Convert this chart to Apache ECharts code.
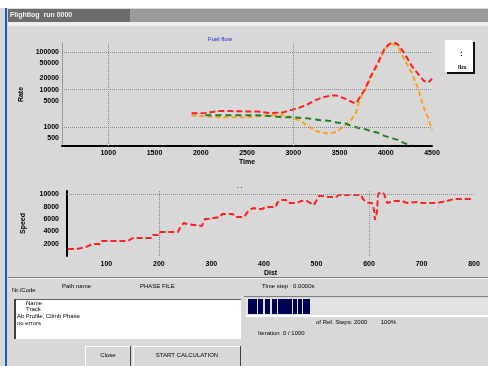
<!DOCTYPE html>
<html><head><meta charset="utf-8">
<script src="https://cdn.jsdelivr.net/npm/echarts@6/dist/echarts.min.js"></script>
<style>html,body{margin:0;padding:0;background:#fff}#c{width:488px;height:366px}</style>
</head><body><div id="c"></div>
<script>
// ---- top chart data ----
const topX = [1900,2050,2190,2330,2470,2610,2750,2890,3000,3070,3150,3230,3310,3400,3470,3560,3640,3680,3720,3780,3830,3910,3990,4040,4090,4130,4200,4280,4350,4410,4460,4500];
const redY = [2340,2380,2690,2690,2640,2640,2380,2480,2980,3360,4030,5140,6160,6950,6950,5790,4630,4370,6270,10600,21100,48300,129800,165000,180000,162000,95900,42800,26400,17300,15600,19500];
const orangeY = [2070,1950,1830,1830,1830,1950,2070,2070,1830,1470,1130,834,708,682,752,1130,1730,2480,5790,10000,19500,45500,119900,152800,162000,143800,65500,28500,10600,3360,1730,834];
const greenY = [null,2070,2070,2070,2070,2070,2000,1830,1830,1780,1730,1620,1520,1470,1340,1270,1060,1000,940,890,800,720,580,545,490,460,375,335,null,null,null,null];
const topXTicks = [1000,1500,2000,2500,3000,3500,4000,4500];
const topYTicks = [500,1000,5000,10000,20000,50000,100000];
// ---- bottom chart data ----
const botX = [26.7,43.8,45.7,61,74.3,87.6,91.4,101,112.4,141,150.5,160,177.2,186.7,188.6,198.1,200,236.2,240,247.7,253.4,255.3,281.9,287.7,293.4,297.2,316.2,320,341,344.8,362,371.5,381,386.7,396.2,403.9,422.9,424.8,432.4,442,445.8,462.9,470.5,482,485.8,495.3,499.1,504.8,510.5,523.9,537.2,542.9,556.3,567.7,584.8,588.6,594.4,600.1,605.8,609.6,611.5,615.3,617.2,622.9,628.7,634.4,642,649.6,662.9,672.5,691.5,701,729.6,733.4,748.7,762,767.7,796.3];
const botY = [1140,1140,1460,1460,1950,1950,2440,2440,2440,2440,2930,2930,2930,2930,3420,3420,3900,3900,4550,5370,5200,4880,4880,6020,6020,6340,6340,6830,6830,6340,6340,7480,7800,7640,7640,7970,7970,8620,9110,9110,8620,8620,8940,8940,8620,8290,7970,9760,9760,9590,9590,9920,9920,9920,9920,9270,8780,8620,8620,7480,5850,7150,10080,10400,10080,8620,8780,8940,8940,8620,8780,8620,8620,8940,8940,9270,9270,9270];
const botXTicks = [100,200,300,400,500,600,700,800];
const botYTicks = [2000,4000,6000,8000,10000];

const pairs = (xs, ys) => xs.map((x,i)=>[x, ys[i]]).filter(p=>p[1]!=null);
const F = 'Liberation Sans';
const grid = {type:'dotted', color:'#8a8a8a', width:1};
const lbl = {fontSize:7, color:'#000', fontFamily:F, fontWeight:'bold'};
const plain = v => String(Math.round(v));

const chart = echarts.init(document.getElementById('c'), null, {renderer:'canvas'});
const g = [];
// window chrome
g.push({type:'rect', shape:{x:0,y:0,width:488,height:366}, style:{fill:'#d8d8d8'}, z:-10});
g.push({type:'rect', shape:{x:0,y:0,width:488,height:8}, style:{fill:'#ffffff'}, z:-9});
g.push({type:'rect', shape:{x:8,y:9,width:480,height:13}, style:{fill:'#9a9a9a'}, z:-9});
g.push({type:'rect', shape:{x:8,y:9,width:122,height:13}, style:{fill:'#6c6c6c'}, z:-9});
g.push({type:'rect', shape:{x:8,y:22,width:480,height:4}, style:{fill:'#eeeeee'}, z:-9});
g.push({type:'rect', shape:{x:5,y:8,width:2,height:358}, style:{fill:'#2a50c8'}, z:-8});
g.push({type:'text', x:10, y:12, style:{text:'Flightlog  run 0000', fill:'#f4f4f4', font:'bold 7px '+F}});
// legend box
g.push({type:'rect', shape:{x:447,y:42,width:28,height:32}, style:{fill:'#101010'}});
g.push({type:'rect', shape:{x:445,y:40,width:28,height:32}, style:{fill:'#ffffff'}});
g.push({type:'text', x:460, y:50, style:{text:':', fill:'#000', font:'bold 8px '+F}});
g.push({type:'text', x:458, y:64, style:{text:'lbs', fill:'#000', font:'bold 6px '+F}});
// bottom panel
g.push({type:'rect', shape:{x:8,y:277,width:480,height:1}, style:{fill:'#808080'}});
g.push({type:'rect', shape:{x:8,y:278,width:480,height:1}, style:{fill:'#f4f4f4'}});
g.push({type:'text', x:12, y:287, style:{text:'Nr./Code', fill:'#000', font:'6px '+F}});
g.push({type:'text', x:62, y:283, style:{text:'Path name', fill:'#000', font:'6px '+F}});
g.push({type:'text', x:140, y:283, style:{text:'PHASE FILE', fill:'#000', font:'6px '+F}});
g.push({type:'text', x:262, y:283, style:{text:'Time step   0.0000s', fill:'#000', font:'6px '+F}});
g.push({type:'rect', shape:{x:244,y:296,width:244,height:1}, style:{fill:'#808080'}});
g.push({type:'rect', shape:{x:14,y:299,width:227,height:40}, style:{fill:'#ffffff'}});
g.push({type:'rect', shape:{x:14,y:299,width:227,height:1}, style:{fill:'#606060'}});
g.push({type:'rect', shape:{x:14,y:299,width:2,height:40}, style:{fill:'#404040'}});
g.push({type:'text', x:26, y:300, style:{text:'Name', fill:'#000', font:'6px '+F}});
g.push({type:'text', x:26, y:306, style:{text:'Track', fill:'#000', font:'6px '+F}});
g.push({type:'text', x:17, y:313, style:{text:'Alt Profile, Climb Phase', fill:'#000', font:'6px '+F}});
g.push({type:'text', x:17, y:320, style:{text:'no errors', fill:'#000', font:'6px '+F}});
// progress bar
g.push({type:'rect', shape:{x:246,y:298,width:242,height:17}, style:{fill:'#e2e2e2'}});
g.push({type:'rect', shape:{x:246,y:315,width:242,height:2}, style:{fill:'#ffffff'}});
[[248,257],[258,263],[265,270],[272,277],[278,292],[293,297],[298,302],[303,310]].forEach(b=>{
  g.push({type:'rect', shape:{x:b[0],y:299,width:b[1]-b[0],height:15}, style:{fill:'#000050'}});
});
g.push({type:'text', x:316, y:319, style:{text:'of Ref. Steps: 2000        100%', fill:'#000', font:'6px '+F}});
g.push({type:'text', x:258, y:330, style:{text:'Iteration  0 / 1000', fill:'#000', font:'6px '+F}});
// buttons
function btn(x,w,t){
  g.push({type:'rect', shape:{x:x,y:346,width:w,height:20}, style:{fill:'#404040'}});
  g.push({type:'rect', shape:{x:x,y:346,width:w-1,height:20}, style:{fill:'#ffffff'}});
  g.push({type:'rect', shape:{x:x+1,y:347,width:w-2,height:19}, style:{fill:'#d8d8d8'}});
  g.push({type:'text', x:x+w/2, y:352, style:{text:t, fill:'#000', font:'6px '+F, align:'center'}});
}
btn(85,46,'Close');
btn(133,108,'START CALCULATION');

const option = {
  animation:false,
  backgroundColor:'transparent',
  title:[
    {text:'Fuel flow', left:203, top:31, textStyle:{color:'#2020e0', fontSize:6, fontFamily:F, fontWeight:'normal'}},
    {text:'- ·', left:232, top:179, textStyle:{color:'#2020e0', fontSize:6, fontFamily:F, fontWeight:'bold'}}
  ],
  grid:[
    {left:62, top:43, width:370, height:103, containLabel:false},
    {left:67, top:191, width:407, height:65, containLabel:false}
  ],
  xAxis:[
    {gridIndex:0, type:'value', min:500, max:4500, interval:500,
     name:'Time', nameLocation:'middle', nameGap:13, nameTextStyle:lbl,
     axisLine:{show:true, onZero:false, lineStyle:{color:'#000', width:2}},
     axisTick:{show:false}, splitLine:{show:false},
     axisLabel:Object.assign({margin:4, customValues:topXTicks, formatter:plain}, lbl)},
    {gridIndex:1, type:'value', min:25, max:800,
     name:'Dist', nameLocation:'middle', nameGap:14, nameTextStyle:lbl,
     axisLine:{show:false}, axisTick:{show:false}, splitLine:{show:false},
     axisLabel:Object.assign({margin:5, customValues:botXTicks, formatter:plain}, lbl)}
  ],
  yAxis:[
    {gridIndex:0, type:'log', logBase:10, min:316.2, max:175000,
     name:'Rate', nameLocation:'middle', nameGap:34, nameRotate:90, nameTextStyle:lbl,
     axisLine:{show:true, onZero:false, lineStyle:grid},
     axisTick:{show:false}, splitLine:{show:false},
     axisLabel:Object.assign({margin:3, customValues:topYTicks, formatter:plain}, lbl)},
    {gridIndex:1, type:'value', min:0, max:10570,
     name:'Speed', nameLocation:'middle', nameGap:40, nameRotate:90, nameTextStyle:lbl,
     axisLine:{show:true, onZero:false, lineStyle:{color:'#000', width:2}},
     axisTick:{show:false}, splitLine:{show:false},
     axisLabel:Object.assign({margin:8, customValues:botYTicks, formatter:plain}, lbl)}
  ],
  series:[
    {type:'line', xAxisIndex:0, yAxisIndex:0, data:pairs(topX, redY), showSymbol:false,
     lineStyle:{color:'#ff2020', width:2, type:[6,3]}, z:4,
     markLine:{silent:true, symbol:'none', label:{show:false}, lineStyle:grid,
       data:[{yAxis:1000},{yAxis:10000},{yAxis:100000},{xAxis:1000},{xAxis:3000}]}},
    {type:'line', xAxisIndex:0, yAxisIndex:0, data:pairs(topX, orangeY), showSymbol:false,
     lineStyle:{color:'#ffa020', width:2, type:[5,3]}, z:3},
    {type:'line', xAxisIndex:0, yAxisIndex:0, data:pairs(topX, greenY), showSymbol:false,
     lineStyle:{color:'#208020', width:2, type:[6,4]}, z:3},
    {type:'line', xAxisIndex:1, yAxisIndex:1, data:pairs(botX, botY), showSymbol:false,
     lineStyle:{color:'#ff2020', width:2, type:[6,3]},
     markLine:{silent:true, symbol:'none', label:{show:false}, lineStyle:grid,
       data:[{yAxis:10000},{xAxis:200},{xAxis:600}]}}
  ],
  graphic:{elements:g}
};
chart.setOption(option);
</script></body></html>
